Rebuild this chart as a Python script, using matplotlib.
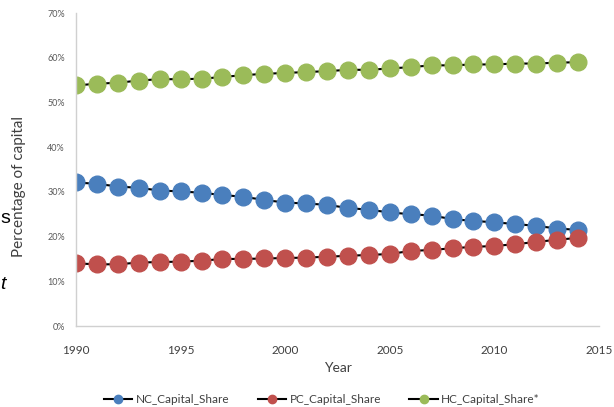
import numpy as np
import matplotlib.pyplot as plt
from matplotlib.ticker import FuncFormatter

# Capital shares by year (percent)
years = np.arange(1990, 2015)
nc_share = [32.1, 31.8, 31.2, 30.9, 30.3, 30.1, 29.8, 29.3, 28.9, 28.2,
            27.6, 27.4, 27.1, 26.4, 26.0, 25.4, 25.0, 24.7, 23.9, 23.5,
            23.2, 22.8, 22.4, 21.8, 21.5]
pc_share = [14.0, 13.8, 13.8, 14.2, 14.3, 14.4, 14.6, 15.0, 15.0, 15.1,
            15.2, 15.3, 15.5, 15.7, 15.9, 16.1, 16.8, 17.0, 17.4, 17.7,
            17.9, 18.3, 18.8, 19.3, 19.7]
hc_share = [53.8, 54.2, 54.4, 54.9, 55.2, 55.2, 55.3, 55.7, 56.1, 56.4,
            56.6, 56.8, 57.0, 57.3, 57.3, 57.6, 57.9, 58.3, 58.3, 58.5,
            58.5, 58.7, 58.7, 58.9, 59.0]

series = {
    "NC_Capital_Share": (nc_share, "#4a7fbd"),
    "PC_Capital_Share": (pc_share, "#c0504d"),
    "HC_Capital_Share*": (hc_share, "#9bbb59"),
}

plt.rcParams['font.family'] = ['Lato', 'DejaVu Sans']

fig = plt.figure(figsize=(6.14, 4.07), dpi=100)
ax = fig.add_axes([0.1238, 0.199, 0.8518, 0.769])

for name, (vals, col) in series.items():
    ax.plot(years, vals, color="black", linewidth=1.5, marker="o",
            markersize=12, markerfacecolor=col, markeredgecolor=col,
            label=name)

ax.set_xlim(1990, 2015)
ax.set_ylim(0, 70)
ax.set_xticks(range(1990, 2016, 5))
ax.set_yticks(range(0, 71, 10))
ax.yaxis.set_major_formatter(FuncFormatter(lambda v, p: f"{int(v)}%"))
ax.tick_params(axis="y", length=0, pad=8, labelsize=6.5, labelcolor="#595959")
ax.tick_params(axis="x", length=0, pad=14, labelsize=8.5, labelcolor="#404040")

for side in ["top", "right"]:
    ax.spines[side].set_visible(False)
for side in ["left", "bottom"]:
    ax.spines[side].set_color("#d0d0d0")
    ax.spines[side].set_linewidth(1)

ax.set_xlabel("Year", fontsize=10, color="#404040", labelpad=4)
ax.set_ylabel("Percentage of capital", fontsize=11, color="#404040")
ax.yaxis.set_label_coords(-0.095, 0.445)

ax.legend(loc="center", bbox_to_anchor=(0.47, -0.235), ncol=3,
          frameon=False, fontsize=8.5, markerscale=0.5, handlelength=2.4,
          handletextpad=0.3, columnspacing=2.4, labelcolor="#404040")

# slide text cut off at the left edge
fig.text(0.0, 0.463, "s", fontsize=14, ha="left", va="center",
         family=["Liberation Sans", "DejaVu Sans"])
fig.text(0.0, 0.3, "t", fontsize=14, ha="left", va="center",
         style="italic", family=["Liberation Sans", "DejaVu Sans"])

fig.savefig("out.png", dpi=100)
